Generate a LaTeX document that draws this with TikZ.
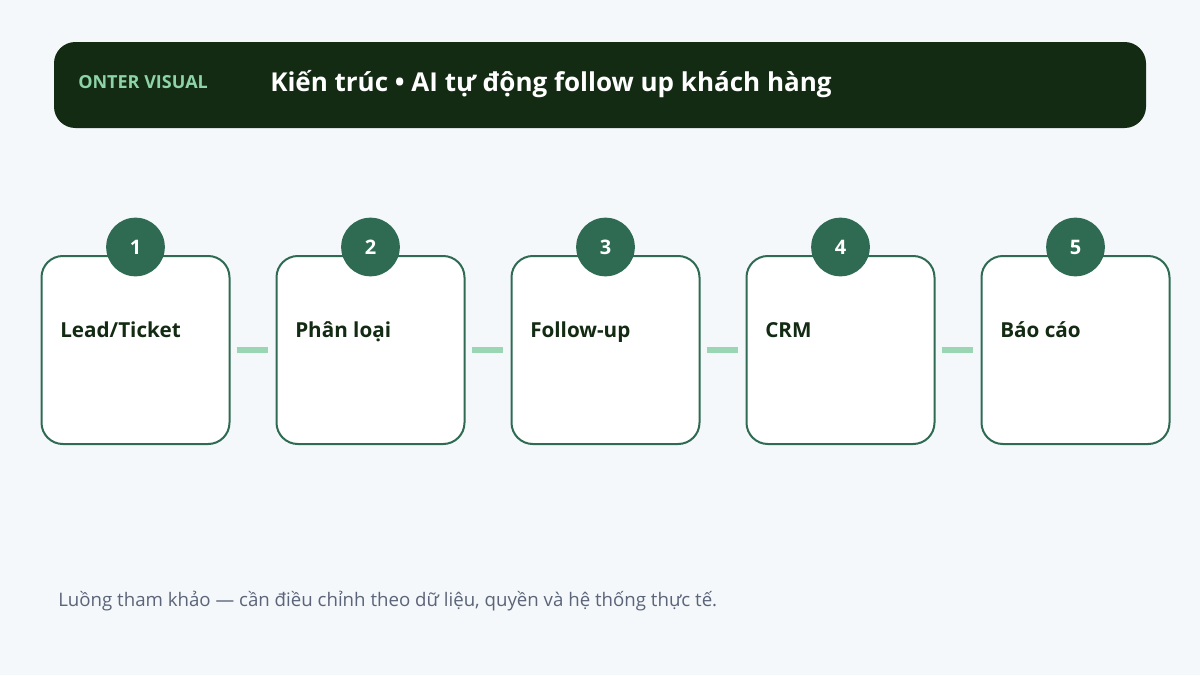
\documentclass[tikz,border=0pt]{standalone}
\usepackage{fontspec}
\setmainfont{Open Sans}
\usetikzlibrary{positioning}
\definecolor{bgcol}{HTML}{F4F8FB}
\definecolor{hdrcol}{HTML}{132A13}
\definecolor{brandcol}{HTML}{8FD3A8}
\definecolor{stepcol}{HTML}{2E6B52}
\definecolor{linkcol}{HTML}{9AD5B4}
\definecolor{inkcol}{HTML}{132A13}
\definecolor{mutedcol}{HTML}{5B6478}
\tikzset{
  stepbox/.style={draw=stepcol, line width=1.5pt, fill=white, rounded corners=16pt,
    minimum width=141pt, minimum height=141pt, inner sep=0pt},
  badge/.style={circle, fill=stepcol, minimum size=44pt, inner sep=0pt,
    text=white, font=\bfseries\fontsize{15}{18}\selectfont},
  steplabel/.style={anchor=base west, inner sep=0pt, text=inkcol, font=\bfseries\fontsize{15.5}{18}\selectfont},
  link/.style={draw=linkcol, line width=5pt, shorten <=4.5pt, shorten >=6pt}
}
\begin{document}
\begin{tikzpicture}[x=0.75pt,y=-0.75pt]
            \fill[bgcol] (0,0) rectangle (1200,675);
            \useasboundingbox (0,0) rectangle (1200,675);
            % header
            \node[fill=hdrcol, rounded corners=16pt, minimum width=819pt, minimum height=64.5pt,
              inner sep=0pt] (hdr) at (600,85) {};
            \node[anchor=base west, inner sep=0pt, text=brandcol, font=\fontsize{13.5}{16}\selectfont\bfseries]
              (brand) at (78,88.5) {ONTER VISUAL};
            \node[anchor=base west, inner sep=0pt, text=white, font=\bfseries\fontsize{19.5}{24}\selectfont]
              (title) at (270,91.5) {Kiến trúc • AI tự động follow up khách hàng};
            % steps
            \foreach \i/\txt in {1/{Lead/Ticket}, 2/{Phân loại}, 3/{Follow-up}, 4/{CRM}, 5/{Báo cáo}} {
              \node[stepbox] (s\i) at ({135.5+235*(\i-1)},350) {};
              \node[badge] (n\i) at ([yshift=6pt]s\i.north) {\i};
              \node[steplabel] (l\i) at ({60+235*(\i-1)},337) {\txt};
            }
            \foreach \i [evaluate=\i as \j using int(\i+1)] in {1,...,4}
              \draw[link] (s\i.east) -- (s\j.west);
            % footer
            \node[anchor=west, inner sep=0pt, text=mutedcol, font=\fontsize{14}{17}\selectfont]
              (note) at (58,601) {Luồng tham khảo — cần điều chỉnh theo dữ liệu, quyền và hệ thống thực tế.};
        \end{tikzpicture}
\end{document}
